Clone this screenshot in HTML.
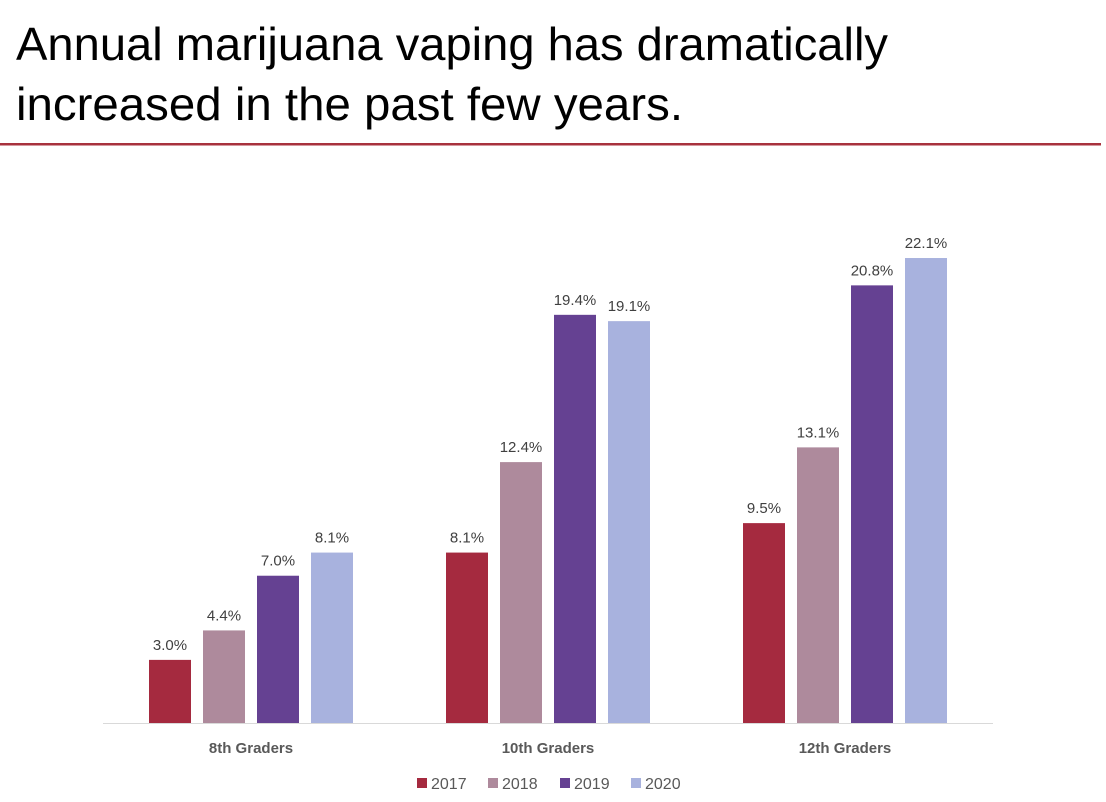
<!DOCTYPE html>
<html><head><meta charset="utf-8"><style>
body{margin:0;background:#fff;}
svg{display:block;font-family:"Liberation Sans",Arial,sans-serif;}
</style></head><body>
<svg id="chart" width="1106" height="802">
<text x="16" y="60" font-size="46" fill="#000" textLength="872" lengthAdjust="spacingAndGlyphs">Annual marijuana vaping has dramatically</text>
<text x="16" y="120" font-size="46" fill="#000" textLength="667" lengthAdjust="spacingAndGlyphs">increased in the past few years.</text>
<rect x="0" y="143" width="1101" height="2.5" fill="#A8323E"/>
<line x1="103" y1="723.5" x2="993" y2="723.5" stroke="#d9d9d9" stroke-width="1"/>
<g id="bars"></g>
<g id="legend"></g>
</svg>
<script>
const categories = ["8th Graders","10th Graders","12th Graders"];
const seriesNames = ["2017","2018","2019","2020"];
const v2017 = [3.0, 8.1, 9.5];
const v2018 = [4.4, 12.4, 13.1];
const v2019 = [7.0, 19.4, 20.8];
const v2020 = [8.1, 19.1, 22.1];
const colors = ["#A52A3F","#AE8A9C","#654192","#A8B2DE"];
const series = [v2017, v2018, v2019, v2020];

const NS = "http://www.w3.org/2000/svg";
const base = 723, pxPer = 21.04;
function y(v){ return base - v*pxPer; }
function catCenter(i){ return 251 + i*297; }
function barX(i,s){ return catCenter(i) - 102 + s*54; }
const g = document.getElementById('bars');
function mk(tag, attrs){ const e=document.createElementNS(NS,tag); for(const k in attrs) e.setAttribute(k,attrs[k]); return e; }
categories.forEach((c,i)=>{
  series.forEach((arr,s)=>{
    const v = arr[i];
    const r = mk('rect',{x:barX(i,s),y:y(v),width:42,height:base-y(v),fill:colors[s]});
    
    
    g.appendChild(r);
    const t = mk('text',{x:barX(i,s)+21,y:y(v)-10,'text-anchor':'middle','font-size':15,fill:'#404040'});
    t.textContent = v.toFixed(1)+'%';
    
    
    g.appendChild(t);
  });
  const ct = mk('text',{x:catCenter(i),y:753,'text-anchor':'middle','font-size':15,'font-weight':'bold',fill:'#595959'});
  ct.textContent = c;
  
  
  g.appendChild(ct);
});
const lg = document.getElementById('legend');
const lx = [417, 488, 560, 631];
seriesNames.forEach((n,s)=>{
  const sq = mk('rect',{x:lx[s],y:778,width:10,height:10,fill:colors[s]});
  
  
  lg.appendChild(sq);
  const t = mk('text',{x:lx[s]+14,y:789,'font-size':16,fill:'#595959'});
  t.textContent = n;
  
  
  lg.appendChild(t);
});
</script>
</body></html>
